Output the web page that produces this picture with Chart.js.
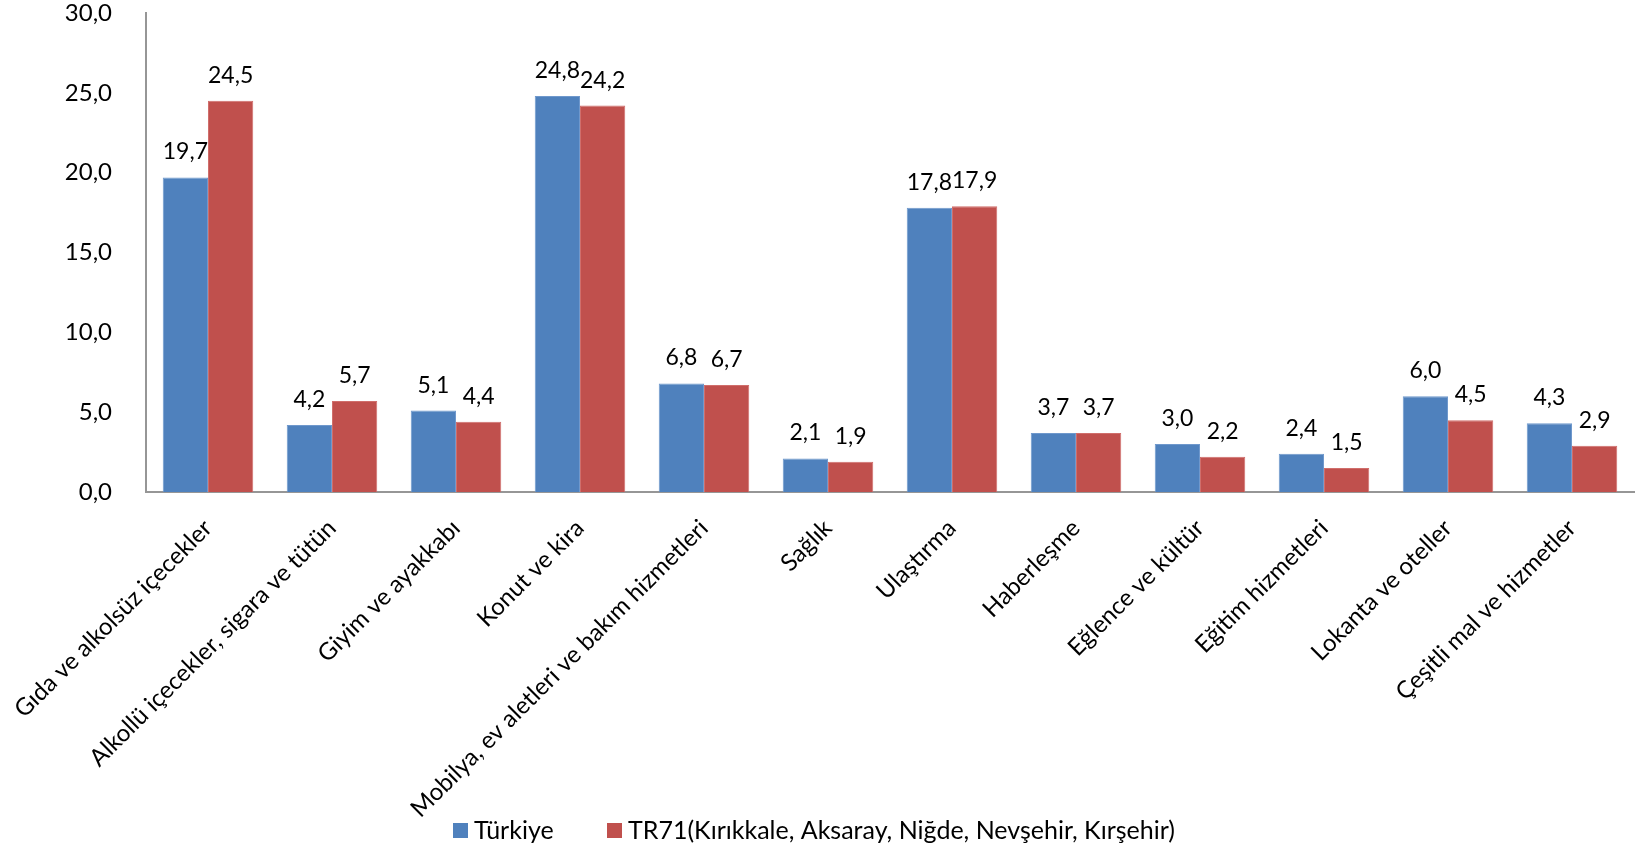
<!DOCTYPE html>
<html>
<head>
<meta charset="utf-8">
<script src="https://cdn.jsdelivr.net/npm/chart.js@4/dist/chart.umd.min.js"></script>
<style>
  html, body { margin: 0; padding: 0; background: #fff; }
  #wrap { width: 1638px; height: 847px; }
</style>
</head>
<body>
<div id="wrap"><canvas id="harcamaChart" width="1638" height="847"></canvas></div>
<script>
const kategoriler = [
    'Gıda ve alkolsüz içecekler',
    'Alkollü içecekler, sigara ve tütün',
    'Giyim ve ayakkabı',
    'Konut ve kira',
    'Mobilya, ev aletleri ve bakım hizmetleri',
    'Sağlık',
    'Ulaştırma',
    'Haberleşme',
    'Eğlence ve kültür',
    'Eğitim hizmetleri',
    'Lokanta ve oteller',
    'Çeşitli mal ve hizmetler'
];
const turkiye = [19.7, 4.2, 5.1, 24.8, 6.8, 2.1, 17.8, 3.7, 3.0, 2.4, 6.0, 4.3];
const tr71 = [24.5, 5.7, 4.4, 24.2, 6.7, 1.9, 17.9, 3.7, 2.2, 1.5, 4.5, 2.9];
const seriAdlari = ['Türkiye', 'TR71(Kırıkkale, Aksaray, Niğde, Nevşehir, Kırşehir)'];
const yTikleri = [0, 5, 10, 15, 20, 25, 30];

const FONT = 'Lato, "Open Sans", sans-serif';
const fmt = v => v.toFixed(1).replace('.', ',');

// bar ustune deger yazisi
const degerEtiketi = {
    id: 'degerEtiketi',
    afterDatasetsDraw(chart) {
        const ctx = chart.ctx;
        ctx.save();
        ctx.font = '23px ' + FONT;
        ctx.fillStyle = '#000';
        ctx.textAlign = 'center';
        ctx.textBaseline = 'alphabetic';
        chart.data.datasets.forEach((ds, i) => {
            chart.getDatasetMeta(i).data.forEach((bar, j) => {
                ctx.fillText(fmt(ds.data[j]), bar.x, bar.y - 18);
            });
        });
        ctx.restore();
    }
};

// alttaki lejant
const altLejant = {
    id: 'altLejant',
    afterDraw(chart) {
        const ctx = chart.ctx;
        ctx.save();
        ctx.font = '25px ' + FONT;
        ctx.textBaseline = 'middle';
        const y = 830;
        const xs = [453, 607];
        chart.data.datasets.forEach((ds, i) => {
            ctx.fillStyle = ds.backgroundColor;
            ctx.fillRect(xs[i], y - 7, 15, 15);
            ctx.fillStyle = '#000';
            ctx.fillText(ds.label, xs[i] + 21, y + 1);
        });
        ctx.restore();
    }
};

const ctx = document.getElementById('harcamaChart').getContext('2d');
const harcamaChart = new Chart(ctx, {
    type: 'bar',
    data: {
        labels: kategoriler,
        datasets: [{
            label: seriAdlari[0],
            data: turkiye,
            backgroundColor: '#4F81BD',
            borderColor: '#6f98cc',
            borderWidth: 1,
            categoryPercentage: 0.73,
            barPercentage: 1.0
        }, {
            label: seriAdlari[1],
            data: tr71,
            backgroundColor: '#C0504D',
            borderColor: '#d06e6b',
            borderWidth: 1,
            categoryPercentage: 0.73,
            barPercentage: 1.0
        }]
    },
    options: {
        responsive: false,
        animation: false,
        layout: {padding: {top: 0, right: 4, left: 0, bottom: 0}},
        plugins: {
            legend: {display: false},
            tooltip: {enabled: false}
        },
        scales: {
            x: {
                grid: {display: false},
                border: {display: true, color: '#969696', width: 2},
                ticks: {
                    color: '#000',
                    font: {size: 24, family: FONT},
                    minRotation: 45,
                    maxRotation: 45,
                    autoSkip: false,
                    padding: 14
                },
                afterFit(scale) {
                    scale.height = 355;
                    scale.paddingLeft = 0;
                    scale.paddingRight = 0;
                }
            },
            y: {
                min: 0,
                max: 30,
                afterBuildTicks(scale) {
                    scale.ticks = yTikleri.map(v => ({value: v}));
                },
                grid: {display: false},
                border: {display: true, color: '#969696', width: 2},
                ticks: {
                    color: '#000',
                    font: {size: 24, family: FONT},
                    padding: 26,
                    callback: v => fmt(v)
                },
                afterFit(scale) {
                    scale.width = 146;
                    scale.paddingTop = 13;
                    scale.paddingBottom = 0;
                }
            }
        }
    },
    plugins: [degerEtiketi, altLejant]
});
</script>
</body>
</html>
